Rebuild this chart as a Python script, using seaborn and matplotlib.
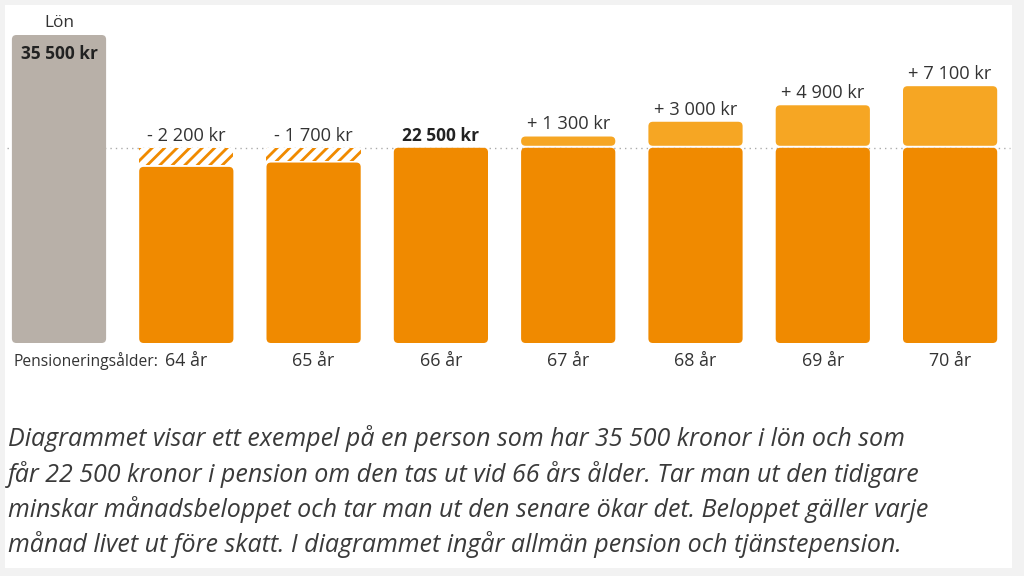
import numpy as np
import pandas as pd
import matplotlib
matplotlib.use("Agg")
import matplotlib.pyplot as plt
import seaborn as sns
from matplotlib.patches import FancyBboxPatch, Rectangle

# ---- data ----
categories = ["Lön", "64 år", "65 år", "66 år", "67 år", "68 år", "69 år", "70 år"]
ages = ["64 år", "65 år", "66 år", "67 år", "68 år", "69 år", "70 år"]
salary = 35500
pension_66 = 22500
differences = [-2200, -1700, 0, 1300, 3000, 4900, 7100]
top_labels = ["- 2 200 kr", "- 1 700 kr", "22 500 kr", "+ 1 300 kr",
              "+ 3 000 kr", "+ 4 900 kr", "+ 7 100 kr"]
salary_title = "Lön"
salary_label = "35 500 kr"
axis_title = "Pensioneringsålder:"
caption_lines = [
    "Diagrammet visar ett exempel på en person som har 35 500 kronor i lön och som",
    "får 22 500 kronor i pension om den tas ut vid 66 års ålder. Tar man ut den tidigare",
    "minskar månadsbeloppet och tar man ut den senare ökar det. Beloppet gäller varje",
    "månad livet ut före skatt. I diagrammet ingår allmän pension och tjänstepension.",
]

GREY = "#b8b0a8"
ORANGE = "#f08a00"
LIGHT = "#f6a623"
TEXT = "#333333"
BG = "#f2f2f2"

sns.set_theme(style="white")
plt.rcParams["font.family"] = ["Open Sans", "DejaVu Sans"]
plt.rcParams["hatch.linewidth"] = 2.7

DPI = 75
W, H = 1024, 576
fig = plt.figure(figsize=(W / DPI, H / DPI), dpi=DPI, facecolor=BG)
fig.patches.append(Rectangle((5 / W, (H - 568) / H), (1012 - 5) / W, (568 - 5) / H,
                             transform=fig.transFigure, facecolor="white",
                             edgecolor="none", zorder=-5))
ax = fig.add_axes([0, 0, 1, 1])
ax.patch.set_visible(False)
ax.set_zorder(1)

BAR_W = 0.74

# base bars
base_vals = [salary] + [pension_66 + min(d, 0) for d in differences]
df_base = pd.DataFrame({"cat": categories, "value": base_vals})
n0 = len(ax.patches)
sns.barplot(data=df_base, x="cat", y="value", hue="cat", order=categories,
            hue_order=categories, palette=[GREY] + [ORANGE] * len(ages),
            width=BAR_W, saturation=1, legend=False, errorbar=None,
            linewidth=0, ax=ax)
base_patches = ax.patches[n0:]

# increases above 66-year level
df_pos = pd.DataFrame({"cat": [a for a, d in zip(ages, differences) if d > 0],
                       "value": [d for d in differences if d > 0]})
n1 = len(ax.patches)
sns.barplot(data=df_pos, x="cat", y="value", order=categories, color=LIGHT,
            width=BAR_W, saturation=1, errorbar=None, bottom=pension_66,
            linewidth=0, ax=ax)
pos_patches = ax.patches[n1:]

# decreases below 66-year level (hatched)
df_neg = pd.DataFrame({"cat": [a for a, d in zip(ages, differences) if d < 0],
                       "value": [d for d in differences if d < 0]})
n2 = len(ax.patches)
sns.barplot(data=df_neg, x="cat", y="value", order=categories, color="white",
            width=BAR_W, saturation=1, errorbar=None, bottom=pension_66,
            hatch="//", linewidth=0, ax=ax)
neg_patches = ax.patches[n2:]

# scales: map categories/values onto the canvas
px_per_x = 127.3
x0_px = 59.0
px_per_kr = 308 / salary
base_px = 343
ax.set_xlim(-x0_px / px_per_x, (W - x0_px) / px_per_x)
ax.set_ylim(-(H - base_px) / px_per_kr, base_px / px_per_kr)
ax.axis("off")

# reference dotted line at the 66-year level
ax.axhline(pension_66, xmin=7 / W, xmax=1010 / W, color="#a9a9a9", lw=1.3,
           ls=(0, (1, 3)), zorder=0.5)

# rounded bars
def pix_scale():
    a = ax.transData.transform((0, 0))
    b = ax.transData.transform((1, 1))
    return b[0] - a[0], b[1] - a[1]

sx, sy = pix_scale()
aspect = sx / sy
gap = 2 / sy
radius = 4.5 / sx

def rounded(p, y0, y1, color, z=2):
    x = p.get_x()
    w = p.get_width()
    fb = FancyBboxPatch((x, y0), w, y1 - y0,
                        boxstyle=f"round,pad=0,rounding_size={radius}",
                        mutation_aspect=aspect, facecolor=color,
                        edgecolor="none", linewidth=0, zorder=z)
    ax.add_patch(fb)
    p.remove()

for p in list(base_patches):
    y0, y1 = p.get_y(), p.get_y() + p.get_height()
    rounded(p, y0, y1, p.get_facecolor())
for p in list(pos_patches):
    y0 = min(p.get_y(), p.get_y() + p.get_height())
    y1 = max(p.get_y(), p.get_y() + p.get_height())
    rounded(p, y0 + gap, y1, LIGHT)
for p in list(neg_patches):
    y0 = min(p.get_y(), p.get_y() + p.get_height())
    y1 = max(p.get_y(), p.get_y() + p.get_height())
    p.set_y(y0 + gap)
    p.set_height(y1 - y0 - gap)
    p.set_facecolor("white")
    p.set_edgecolor(ORANGE)
    p.set_linewidth(0)
    p.set_zorder(2)

# labels
FS = 17.5
ax.annotate(salary_title, xy=(0, salary), xytext=(0, 4), textcoords="offset points",
            ha="center", va="bottom", fontsize=16.5, color=TEXT)
ax.annotate(salary_label, xy=(0, salary), xytext=(0, -18), textcoords="offset points",
            ha="center", va="center", fontsize=16.5, fontweight="bold", color="#222222",
            zorder=5)
for i, (d, lab) in enumerate(zip(differences, top_labels), start=1):
    top = pension_66 + max(d, 0)
    ax.annotate(lab, xy=(i, top), xytext=(0, 3), textcoords="offset points",
                ha="center", va="bottom", fontsize=FS if d != 0 else 16.5,
                fontweight="bold" if d == 0 else "normal",
                color="#222222" if d == 0 else TEXT)
for i, a in enumerate(ages, start=1):
    ax.annotate(a, xy=(i, 0), xytext=(0, -17.5), textcoords="offset points",
                ha="center", va="center", fontsize=17, color=TEXT)
ax.annotate(axis_title, xy=(1, 0), xytext=(-27, -17.5), textcoords="offset points",
            ha="right", va="center", fontsize=15, color=TEXT)

# caption
for k, line in enumerate(caption_lines):
    fig.text(8 / W, 1 - (446 + 35.5 * k) / H, line, ha="left", va="baseline",
             fontsize=24, style="italic", color="#3a3a3a")

fig.savefig("out.png", dpi=DPI, facecolor=BG)
